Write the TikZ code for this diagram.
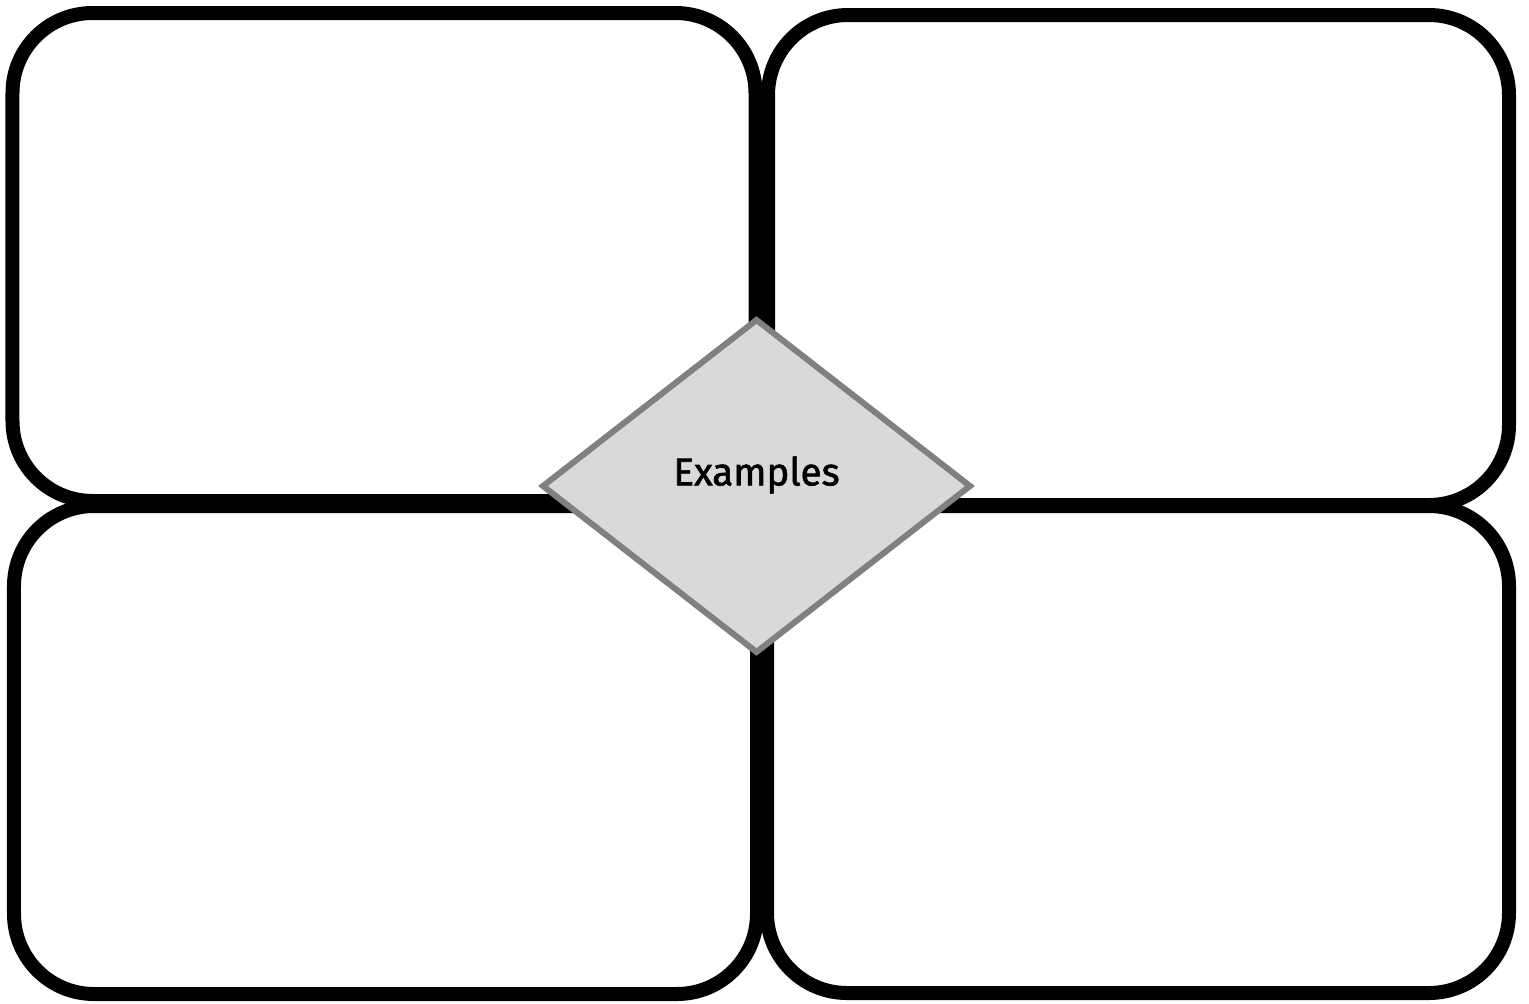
\documentclass[tikz,border=0pt]{standalone}
\usepackage{fontspec}
\setmainfont{Fira Sans}
\newfontfamily\labelfont{Fira Sans}[FakeBold=1.6]
\usetikzlibrary{shapes.geometric}
\definecolor{diamondfill}{HTML}{D9D9D9}
\definecolor{diamondline}{HTML}{808080}
\begin{document}
\begin{tikzpicture}
[every node/.style={inner sep=0pt, outer sep=0pt},
 card/.style={rectangle, draw=black, line width=0.14cm, rounded corners=0.8cm, fill=white},
 centre/.style={diamond, draw=diamondline, fill=diamondfill, line width=0.06cm}]
\useasboundingbox (0,0) rectangle (15.29,-10.04);
\node[card, minimum width=7.43cm, minimum height=4.88cm] (tl) at (3.84,-2.57) {};
\node[card, minimum width=7.41cm, minimum height=4.90cm] (tr) at (11.385,-2.60) {};
\node[card, minimum width=7.43cm, minimum height=4.88cm] (bl) at (3.855,-7.50) {};
\node[card, minimum width=7.42cm, minimum height=4.87cm] (br) at (11.38,-7.495) {};
\node[centre, minimum width=4.27cm, minimum height=3.32cm] (mid) at (7.565,-4.86) {};
\node[font=\labelfont\fontsize{11}{13}\selectfont] (label) at (7.565,-4.75) {Examples};
\end{tikzpicture}
\end{document}
